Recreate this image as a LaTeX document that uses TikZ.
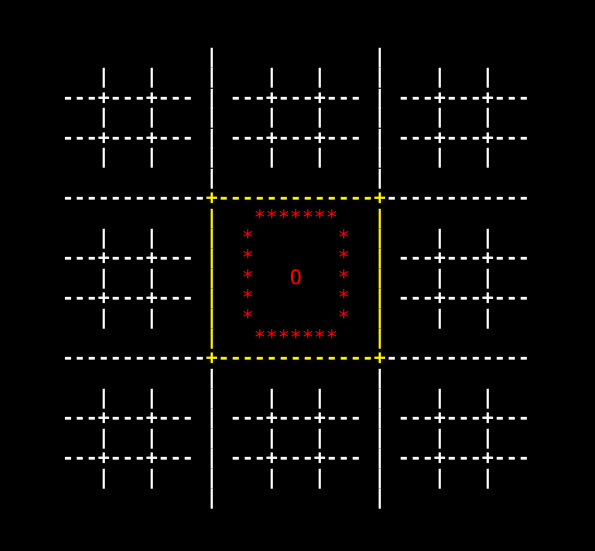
\documentclass[tikz,border=0pt]{standalone}
\usepackage{fontspec}
\setmonofont{DejaVu Sans Mono}
\usepackage{xcolor}
\newcommand\Yc[1]{\textcolor{yellow}{#1}}
\newcommand\Rc[1]{\textcolor{red}{\mdseries #1}}
\begin{document}
\begin{tikzpicture}[x=1pt,y=1pt,
  txtrow/.style={anchor=base west, inner sep=0pt, outer sep=0pt, text=white,
    font=\ttfamily\bfseries\fontsize{19.93}{20}\selectfont}]
\fill[black] (0,0) rectangle (595,-551);
\useasboundingbox (0,0) rectangle (595,-551);
% rows: baseline y = -(64 + 20 r)
\node[txtrow] (r0)  at (62,-64)  {~~~~~~~~~~~~|~~~~~~~~~~~~~|};
\node[txtrow] (r1)  at (62,-84)  {~~~|~~~|~~~~|~~~~|~~~|~~~~|~~~~|~~~|};
\node[txtrow] (r2)  at (62,-104) {---+---+---~|~---+---+---~|~---+---+---};
\node[txtrow] (r3)  at (62,-124) {~~~|~~~|~~~~|~~~~|~~~|~~~~|~~~~|~~~|};
\node[txtrow] (r4)  at (62,-144) {---+---+---~|~---+---+---~|~---+---+---};
\node[txtrow] (r5)  at (62,-164) {~~~|~~~|~~~~|~~~~|~~~|~~~~|~~~~|~~~|};
\node[txtrow] (r6)  at (62,-184) {~~~~~~~~~~~~|~~~~~~~~~~~~~|};
\node[txtrow] (r7)  at (62,-204) {------------\Yc{+-------------+}------------};
\node[txtrow] (r8)  at (62,-224) {~~~~~~~~~~~~\Yc{|}~~~\Rc{*******}~~~\Yc{|}};
\node[txtrow] (r9)  at (62,-244) {~~~|~~~|~~~~\Yc{|}~~\Rc{*}~~~~~~~\Rc{*}~~\Yc{|}~~~~|~~~|};
\node[txtrow] (r10) at (62,-264) {---+---+---~\Yc{|}~~\Rc{*}~~~~~~~\Rc{*}~~\Yc{|}~---+---+---};
\node[txtrow] (r11) at (62,-284) {~~~|~~~|~~~~\Yc{|}~~\Rc{*}~~~\Rc{O}~~~\Rc{*}~~\Yc{|}~~~~|~~~|};
\node[txtrow] (r12) at (62,-304) {---+---+---~\Yc{|}~~\Rc{*}~~~~~~~\Rc{*}~~\Yc{|}~---+---+---};
\node[txtrow] (r13) at (62,-324) {~~~|~~~|~~~~\Yc{|}~~\Rc{*}~~~~~~~\Rc{*}~~\Yc{|}~~~~|~~~|};
\node[txtrow] (r14) at (62,-344) {~~~~~~~~~~~~\Yc{|}~~~\Rc{*******}~~~\Yc{|}};
\node[txtrow] (r15) at (62,-364) {------------\Yc{+-------------+}------------};
\node[txtrow] (r16) at (62,-384) {~~~~~~~~~~~~|~~~~~~~~~~~~~|};
\node[txtrow] (r17) at (62,-404) {~~~|~~~|~~~~|~~~~|~~~|~~~~|~~~~|~~~|};
\node[txtrow] (r18) at (62,-424) {---+---+---~|~---+---+---~|~---+---+---};
\node[txtrow] (r19) at (62,-444) {~~~|~~~|~~~~|~~~~|~~~|~~~~|~~~~|~~~|};
\node[txtrow] (r20) at (62,-464) {---+---+---~|~---+---+---~|~---+---+---};
\node[txtrow] (r21) at (62,-484) {~~~|~~~|~~~~|~~~~|~~~|~~~~|~~~~|~~~|};
\node[txtrow] (r22) at (62,-504) {~~~~~~~~~~~~|~~~~~~~~~~~~~|};
\end{tikzpicture}
\end{document}
